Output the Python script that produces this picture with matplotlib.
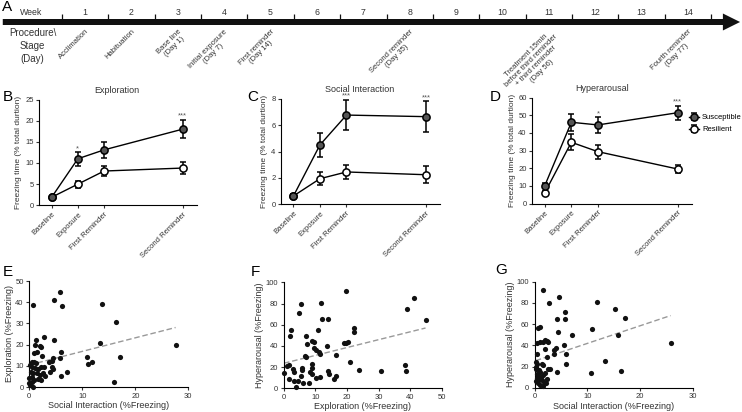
import matplotlib
matplotlib.use("Agg")
import matplotlib.pyplot as plt

plt.rcParams['font.family'] = ['Liberation Sans', 'DejaVu Sans']

W, H = 742, 412

# =========================
# A - timeline
# =========================
weeks = list(range(1, 15))
stage_weeks = [1, 2, 3, 4, 5, 8, 11, 14]
stage_labels = ["Acclimation", "Habituation", "Base line\n(Day 1)",
                "Initial exposure\n(Day 7)", "First reminder\n(Day 14)",
                "Second reminder\n(Day 35)",
                "Treatment 15min\nbefore third reminder\n+ third reminder\n(Day 56)",
                "Fourth reminder\n(Day 77)"]

# =========================
# B-D - freezing over time
# =========================
phases = ["Baseline", "Exposure", "First Reminder", "Second Reminder"]
phase_pos = [0, 1, 2, 5]  # weeks after baseline

expl_sus = [1.9, 11.0, 13.1, 18.0]
expl_sus_err = [0.4, 1.6, 1.9, 2.2]
expl_res = [1.9, 5.0, 8.1, 8.8]
expl_res_err = [0.4, 0.8, 1.2, 1.4]
expl_stars = ["", "*", "", "***"]

soc_sus = [0.63, 4.5, 6.76, 6.64]
soc_sus_err = [0.15, 0.93, 1.15, 1.16]
soc_res = [0.63, 1.94, 2.45, 2.24]
soc_res_err = [0.15, 0.47, 0.53, 0.65]
soc_stars = ["", "", "***", "***"]

hyp_sus = [10.2, 46.0, 44.5, 51.4]
hyp_sus_err = [1.5, 4.8, 4.4, 4.0]
hyp_res = [6.2, 34.7, 29.4, 19.6]
hyp_res_err = [1.0, 4.5, 4.0, 2.0]
hyp_stars = ["", "", "*", "***"]

# =========================
# E-G - correlations
# =========================
e_social = [0.75, 5.8, 4.7, 6.1, 13.7, 16.4, 27.6, 13.4, 17.2, 10.9, 11.1, 11.9, 16.0, 7.2,
            5.9, 6.0, 5.8, 4.6, 2.8, 1.3, 1.0, 2.0, 2.3, 0.9, 1.5, 2.4, 0.45, 0.9, 1.3,
            0.13, 0.57, 1.1, 1.7, 2.2, 2.8, 0.26, 0.75, 1.4, 2.0, 2.6, 2.96, 0.0, 0.45,
            0.94, 1.6, 2.2, 0.0, 0.13, 0.45, 0.75, 3.8, 4.2, 4.5, 3.9, 4.2, 4.4]
e_expl = [38.7, 45.0, 41.0, 38.4, 39.0, 30.8, 19.8, 20.8, 14.0, 14.3, 11.0, 12.0, 2.4, 7.2,
          5.2, 16.5, 13.8, 22.3, 23.6, 22.2, 20.0, 19.5, 18.9, 16.2, 16.7, 14.4, 11.6, 11.8, 11.2,
          10.4, 9.6, 8.8, 8.3, 9.3, 9.6, 7.2, 6.5, 6.7, 5.7, 6.7, 5.3, 4.1, 4.9,
          3.3, 3.6, 3.3, 1.7, 0.9, 2.5, 0.1, 11.8, 12.4, 13.5, 7.2, 9.3, 8.3]
e_fit = (10.4, 0.64)  # intercept, slope

f_expl = [0.1, 1.1, 1.7, 1.8, 3.3, 2.8, 3.3, 3.9, 4.6, 5.4, 5.9, 5.9, 6.2, 6.7, 7.0, 7.4,
          8.0, 8.4, 8.8, 9.0, 9.0, 8.8, 9.7, 9.5, 10.1, 11.2, 11.4, 10.2, 11.5, 13.6, 14.1,
          14.2, 16.4, 16.5, 15.9, 19.0, 19.6, 20.2, 20.8, 23.7, 30.7, 38.4, 38.6, 2.4, 2.1,
          5.6, 4.9, 11.8, 12.0, 13.9, 19.6, 41.0, 39.0, 44.8, 22.1, 22.3, 10.8, 7.0]
f_hyp = [14.7, 21, 22, 8.8, 7.2, 18.5, 15.7, 1.5, 6.6, 11.3, 19.4, 17, 5.3, 30.8, 29.2, 41.5,
         4.7, 15, 18.9, 22.6, 13.2, 44.6, 43.4, 37.7, 36.4, 34.5, 32.3, 9.4, 11, 40.2, 16.3,
         13.5, 31.4, 11.9, 8.5, 42.5, 42.5, 43.7, 24.8, 17.3, 16, 21.7, 16.6, 55.3, 49.4,
         79.2, 71.4, 80.8, 65, 65.7, 91.8, 84.9, 74.8, 64.8, 57, 52.8, 55, 49.7]
f_fit = (23.6, 0.743)

g_social = [1.6, 4.6, 2.7, 11.8, 15.3, 17.1, 5.8, 4.2, 5.7, 4.5, 7.0, 10.9, 15.8, 25.8,
            5.6, 4.1, 3.7, 3.7, 5.9, 5.9, 4.2, 10.7, 13.4, 16.4,
            0.4, 1.0, 1.5, 2.0, 2.3, 2.6, 0.7, 1.1, 0.4, 1.9, 2.3, 2.6, 2.9, 1.6,
            0.2, 0.5, 0.3, 0.8, 1.0, 0.4, 0.7, 1.2, 0.5, 0.9, 1.4, 0.3, 1.8, 0.6, 1.1,
            1.6, 2.1, 2.3, 1.5, 1.9, 0.2, 1.3]
g_hyp = [91.8, 85.2, 79.6, 80.8, 74.5, 65.7, 71, 64.8, 64.8, 52.8, 50, 55, 49.7, 42.1,
         40.3, 37.7, 36.0, 31.4, 31.4, 22, 15.1, 13.8, 25.2, 16,
         42.5, 43, 43.5, 44.6, 44.2, 42.8, 56, 57, 32, 36.5, 29.2, 17.6, 17.6, 21.4,
         20, 22, 18, 17, 15, 13, 11, 10, 9, 8, 7, 6, 5, 4, 3,
         2, 4.5, 8, 12, 13.5, 24, 22]
g_fit = (25.2, 1.66)

fig = plt.figure(figsize=(W / 100, H / 100), dpi=100)


def px_axes(left, top, right, bottom):
    return fig.add_axes([left / W, 1 - bottom / H, (right - left) / W, (bottom - top) / H])


def letter(x, y, s):
    fig.text(x / W, 1 - y / H, s, fontsize=11, ha='left', va='center')


def style(ax):
    for side in ['top', 'right']:
        ax.spines[side].set_visible(False)
    for side in ['left', 'bottom']:
        ax.spines[side].set_linewidth(0.8)
    ax.tick_params(labelsize=5.5, length=2.5, width=0.8, pad=1.5, colors='#333333')


# ---- A
ax_a = fig.add_axes([0, 1 - 70 / H, 1, 70 / H])
ax_a.set_xlim(1 - 61.7 / 46.4, 1 + (W - 61.7) / 46.4)
ax_a.set_ylim(70, 0)
ax_a.axis('off')
ax_a.arrow(-0.27, 22, 15.89, 0, width=6, head_width=17, head_length=0.37,
           length_includes_head=True, color='#111111', lw=0)
ax_a.vlines(weeks + [15], 14, 20, color='#111111', lw=0.9)
for w in weeks:
    ax_a.text(w + 0.5, 12.5, str(w), fontsize=6.3, ha='center', va='center', color='#333333')
ax_a.text(0.35, 12.5, "Week", fontsize=6.3, ha='center', va='center', color='#333333')
ax_a.text(0.37, 28, "Procedure\\\nStage\n(Day)", fontsize=7, ha='center', va='top',
          linespacing=1.35, color='#333333')
for w, lab in zip(stage_weeks, stage_labels):
    ax_a.text(w + 0.5, 28, lab, fontsize=5.5, rotation=45, ha='right', va='top',
              rotation_mode='anchor', multialignment='center', linespacing=1.05,
              color='#333333')
letter(2, 7, "A")


# ---- B, C, D
def time_panel(ax, sus, sus_err, res, res_err, stars, ymax, ystep, title, tx):
    ax.errorbar(phase_pos, res, yerr=res_err, color='black', lw=1, marker='o', ms=5.2,
                mfc='white', mec='black', mew=1.1, capsize=2.5, elinewidth=1.1,
                capthick=1.1, label='Resilient', clip_on=False, zorder=3)
    ax.errorbar(phase_pos, sus, yerr=sus_err, color='black', lw=1, marker='o', ms=5.2,
                mfc='#555555', mec='black', mew=1.1, capsize=2.5, elinewidth=1.1,
                capthick=1.1, label='Susceptible', clip_on=False, zorder=4)
    for x, v, e, s in zip(phase_pos, sus, sus_err, stars):
        if s:
            ax.annotate(s, (x, v + e), xytext=(0, 0), textcoords='offset points',
                        ha='center', va='bottom', fontsize=5.5, color='#555555',
                        annotation_clip=False)
    ax.set_ylim(0, ymax)
    ax.set_yticks(range(0, ymax + 1, ystep))
    ax.set_xlim(-0.47, 5.53)
    ax.set_xticks(phase_pos)
    ax.set_xticklabels(phases, rotation=45, ha='right', rotation_mode='anchor')
    ax.set_ylabel("Freezing time (% total durtion)", fontsize=6, color='#333333', labelpad=2)
    style(ax)
    pos = ax.get_position()
    fig.text(tx / W, pos.y1 + 9 / H, title, fontsize=6.5, ha='center', va='center',
             color='#333333')


ax_b = px_axes(39.3, 99.5, 196.7, 205.3)
time_panel(ax_b, expl_sus, expl_sus_err, expl_res, expl_res_err, expl_stars, 25, 5,
           "Exploration", 117)
ax_c = px_axes(281, 98.7, 440, 204.3)
time_panel(ax_c, soc_sus, soc_sus_err, soc_res, soc_res_err, soc_stars, 8, 2,
           "Social Interaction", 360)
ax_d = px_axes(532.3, 97.5, 691.7, 203.7)
time_panel(ax_d, hyp_sus, hyp_sus_err, hyp_res, hyp_res_err, hyp_stars, 60, 10,
           "Hyperarousal", 602)
handles, labels = ax_d.get_legend_handles_labels()
fig.legend(handles[::-1], labels[::-1], loc='upper left',
           bbox_to_anchor=(689 / W, 1 - 114 / H), frameon=False, fontsize=5.5,
           handlelength=1.3, handletextpad=0.4, labelspacing=0.6, borderaxespad=0,
           borderpad=0)
letter(3, 97, "B")
letter(247, 97, "C")
letter(490, 97, "D")


# ---- E, F, G
def scatter_panel(ax, x, y, fit, xmax, ymax, xstep, ystep, xlabel, ylabel):
    ax.scatter(x, y, s=14, color='#111111', lw=0, clip_on=False, zorder=3)
    x0, x1 = min(x), max(x)
    ax.plot([x0, x1], [fit[0] + fit[1] * x0, fit[0] + fit[1] * x1], ls=(0, (4, 2)),
            color='#999999', lw=1)
    ax.set_xlim(0, xmax)
    ax.set_ylim(0, ymax)
    ax.set_xticks(range(0, xmax + 1, xstep))
    ax.set_yticks(range(0, ymax + 1, ystep))
    ax.set_xlabel(xlabel, fontsize=6.5, color='#333333', labelpad=1)
    ax.set_ylabel(ylabel, fontsize=6.5, color='#333333', labelpad=1)
    style(ax)


ax_e = px_axes(29.3, 281, 188.3, 387)
scatter_panel(ax_e, e_social, e_expl, e_fit, 30, 50, 10, 10,
              "Social Interaction (%Freezing)", "Exploration (%Freezing)")
ax_f = px_axes(283.7, 282.3, 442, 388.3)
scatter_panel(ax_f, f_expl, f_hyp, f_fit, 50, 100, 10, 20,
              "Exploration (%Freezing)", "Hyperarousal (%Freezing)")
ax_g = px_axes(534.7, 281.7, 692.7, 387.7)
scatter_panel(ax_g, g_social, g_hyp, g_fit, 30, 100, 10, 20,
              "Social Interaction (%Freezing)", "Hyperarousal (%Freezing)")
letter(3, 272, "E")
letter(251, 272, "F")
letter(495, 270, "G")

fig.savefig("out.png", dpi=100)
